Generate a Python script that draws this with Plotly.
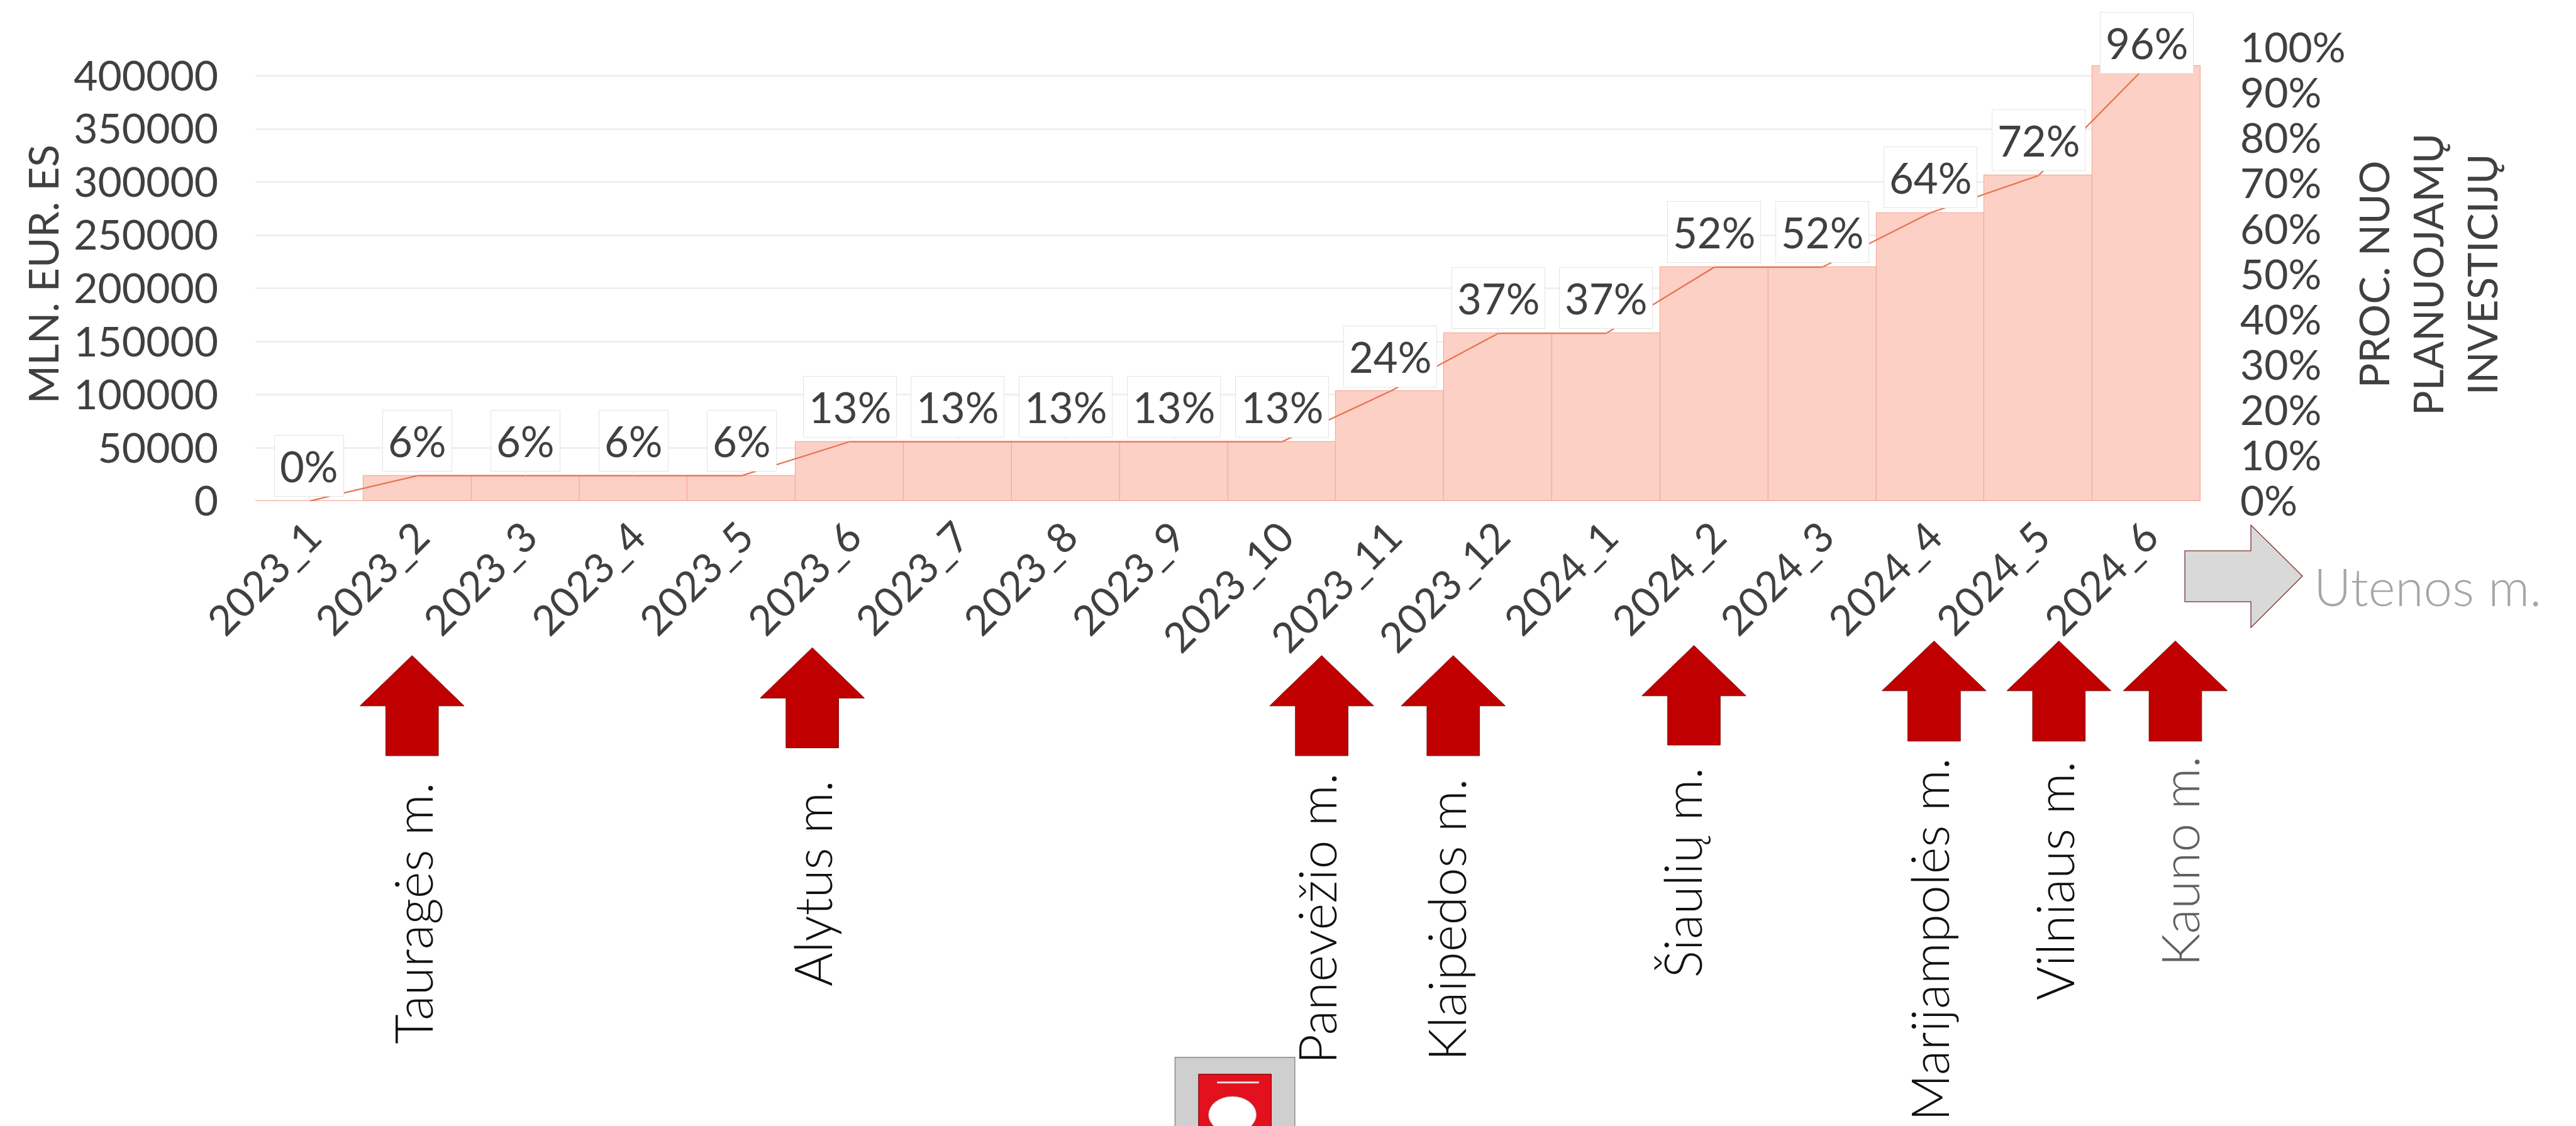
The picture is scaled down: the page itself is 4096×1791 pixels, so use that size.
import plotly.graph_objects as go

# ---------------- data ----------------
categories = ["2023_1", "2023_2", "2023_3", "2023_4", "2023_5", "2023_6", "2023_7",
              "2023_8", "2023_9", "2023_10", "2023_11", "2023_12", "2024_1", "2024_2",
              "2024_3", "2024_4", "2024_5", "2024_6"]
invest_values = [0, 23400, 23400, 23400, 23400, 55700, 55700, 55700, 55700, 55700,
                 103400, 157800, 157800, 220000, 220000, 270700, 306300, 409200]
pct_values = [0.0, 0.056, 0.056, 0.056, 0.056, 0.131, 0.131, 0.131, 0.131, 0.131,
              0.242, 0.370, 0.370, 0.516, 0.516, 0.636, 0.718, 0.960]
left_axis_max = 426500
left_ticks = [0, 50000, 100000, 150000, 200000, 250000, 300000, 350000, 400000]

cities = ["Tauragės m.", "Alytus m.", "Panevėžio m.", "Klaipėdos m.", "Šiaulių m.",
          "Marijampolės m.", "Vilniaus m.", "Kauno m."]
next_city = "Utenos m."

# ---------------- geometry helpers (reference px -> paper) ----------------
S = 0.89
W, H = 4096, 1791
PL, PR, PT, PB = 447, 3922, 76, 886   # plot area in reference pixels


def PX(x):
    return (x - PL) / (PR - PL)


def PY(y):
    return (PB - y) / (PB - PT)


FONT = "Lato"
TXT = "#404040"

fig = go.Figure()
fig.add_trace(go.Bar(
    x=categories, y=invest_values,
    marker=dict(color="#fcd0c5", line=dict(color="#f3ad9c", width=1.2)),
    width=1.0, yaxis="y", showlegend=False, hoverinfo="skip"))
fig.add_trace(go.Scatter(
    x=categories, y=pct_values, mode="lines",
    line=dict(color="#e8704e", width=2.2), yaxis="y2", showlegend=False,
    hoverinfo="skip"))

annotations = []
# data labels
for c, p in zip(categories, pct_values):
    off = -56 if p < 0.9 else -37
    annotations.append(dict(
        x=c, y=p, xref="x", yref="y2", text=f"{round(p * 100)}%",
        showarrow=True, arrowhead=0, arrowwidth=1, arrowcolor="#e6e6e6",
        ax=0, ay=off, font=dict(family=FONT, size=67, color=TXT),
        bgcolor="white", bordercolor="#e4e4e4", borderwidth=1, borderpad=8))

# axis titles
annotations.append(dict(
    x=PX(67), y=0.5, xref="paper", yref="paper", text="MLN. EUR. ES",
    textangle=-90, showarrow=False, xanchor="center", yanchor="middle",
    font=dict(family=FONT, size=66, color=TXT)))
annotations.append(dict(
    x=PX(4327), y=0.5, xref="paper", yref="paper",
    text="PROC. NUO<br>PLANUOJAMŲ<br>INVESTICIJŲ",
    textangle=-90, showarrow=False, xanchor="center", yanchor="middle",
    align="center", font=dict(family=FONT, size=66, color=TXT)))

shapes = []
# red up arrows + city labels
arrow_specs = [  # (center x, tip y, head base y, bottom y, text x, text top y)
    (727, 1162, 1252, 1341, 727, 1386),
    (1442, 1148, 1238, 1327, 1442, 1383),
    (2352, 1162, 1252, 1341, 2342, 1369),
    (2587, 1162, 1252, 1341, 2574, 1380),
    (3017, 1144, 1234, 1322, 2995, 1359),
    (3446, 1136, 1225, 1315, 3437, 1342),
    (3669, 1136, 1225, 1315, 3660, 1349),
    (3877, 1136, 1225, 1315, 3883, 1339),
]
for i, (cx, tip, base, bot, tx, ty) in enumerate(arrow_specs):
    pts = [(cx, tip), (cx + 93, base), (cx + 47, base), (cx + 47, bot),
           (cx - 47, bot), (cx - 47, base), (cx - 93, base)]
    path = "M " + " L ".join(f"{PX(a):.5f},{PY(b):.5f}" for a, b in pts) + " Z"
    shapes.append(dict(type="path", xref="paper", yref="paper", path=path,
                       fillcolor="#c00000", line=dict(color="#7a1010", width=1)))
    col = "#606060" if i == len(arrow_specs) - 1 else "#111111"
    annotations.append(dict(
        x=PX(tx), y=PY(ty), xref="paper", yref="paper", text=cities[i],
        textangle=-90, showarrow=False, xanchor="center", yanchor="top",
        font=dict(family=FONT, size=82, color=col, weight=300)))

# grey right arrow + next city
gpts = [(3894, 975), (4012, 975), (4012, 929), (4104, 1020), (4012, 1112),
        (4012, 1066), (3894, 1066)]
gpath = "M " + " L ".join(f"{PX(a):.5f},{PY(b):.5f}" for a, b in gpts) + " Z"
shapes.append(dict(type="path", xref="paper", yref="paper", path=gpath,
                   fillcolor="#d9d9d9", line=dict(color="#7b2e2e", width=1.3)))
annotations.append(dict(
    x=PX(4122), y=PY(1038), xref="paper", yref="paper", text=next_city,
    showarrow=False, xanchor="left", yanchor="middle",
    font=dict(family=FONT, size=82, color="#a6a6a6", weight=300)))

# small coat of arms approximation at bottom
shapes.append(dict(type="rect", xref="paper", yref="paper",
                   x0=PX(2090), x1=PX(2304), y0=PY(2030), y1=PY(1880),
                   fillcolor="#cfcfcf", line=dict(color="#8a8a8a", width=1.5)))
shapes.append(dict(type="rect", xref="paper", yref="paper",
                   x0=PX(2132), x1=PX(2262), y0=PY(2030), y1=PY(1910),
                   fillcolor="#e3101e", line=dict(color="#6a0a0a", width=1)))
shapes.append(dict(type="circle", xref="paper", yref="paper",
                   x0=PX(2150), x1=PX(2235), y0=PY(2015), y1=PY(1950),
                   fillcolor="white", line=dict(color="#bbbbbb", width=1)))
shapes.append(dict(type="line", xref="paper", yref="paper",
                   x0=PX(2165), x1=PX(2240), y0=PY(1925), y1=PY(1925),
                   line=dict(color="#dddddd", width=3)))

fig.update_layout(
    width=W, height=H,
    margin=dict(l=PL * S, r=W - PR * S, t=PT * S, b=H - PB * S, autoexpand=False),
    paper_bgcolor="white", plot_bgcolor="white",
    bargap=0, showlegend=False,
    font=dict(family=FONT, color=TXT),
    xaxis=dict(type="category", tickangle=-45, showgrid=False, showline=False,
               zeroline=False, ticks="", tickfont=dict(family=FONT, size=66, color=TXT),
               ticklabelstandoff=4),
    yaxis=dict(range=[0, left_axis_max], tickvals=left_ticks,
               ticktext=[str(v) for v in left_ticks],
               showgrid=True, gridcolor="#efefef", gridwidth=2.6, zeroline=False,
               showline=False, ticks="", ticklabelstandoff=58,
               tickfont=dict(family=FONT, size=66, color=TXT)),
    yaxis2=dict(range=[0, 1], dtick=0.1, tickformat=".0%", overlaying="y",
                side="right", showgrid=False, zeroline=False, showline=False,
                ticks="", ticklabelstandoff=62,
                tickfont=dict(family=FONT, size=66, color=TXT)),
    annotations=annotations, shapes=shapes,
)

fig.write_html("out.html")
